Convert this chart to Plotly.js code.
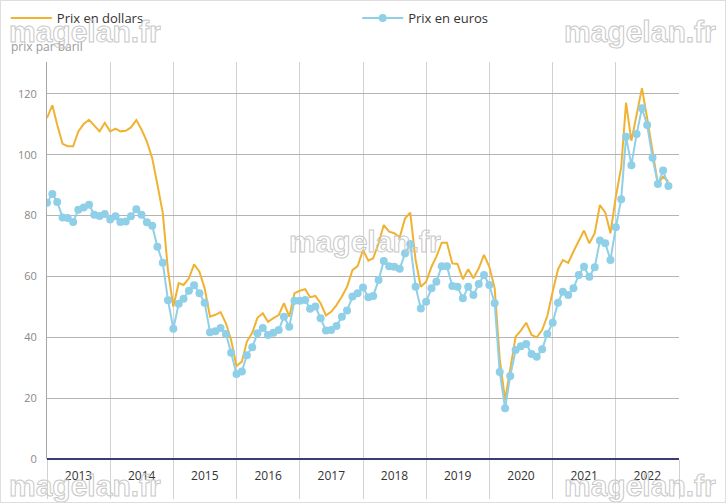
<!DOCTYPE html>
<html>
<head>
<meta charset="utf-8">
<script src="https://cdn.plot.ly/plotly-3.0.1.min.js"></script>
<style>
html,body{margin:0;padding:0;background:#fff;}
#wrap{position:relative;width:726px;height:503px;}
#chart{width:726px;height:503px;}
#frame{position:absolute;left:0;top:0;width:726px;height:503px;box-sizing:border-box;border:1px solid #dedede;pointer-events:none;}
</style>
</head>
<body>
<div id="wrap"><div id="chart"></div><div id="frame"></div></div>
<script>
// Monthly series, January 2013 to November 2022
const startYear = 2013;
const yearLabels = ['2013','2014','2015','2016','2017','2018','2019','2020','2021','2022'];
const seriesNames = ['Prix en dollars', 'Prix en euros'];
const yAxisLabel = 'prix par baril';
const watermark = 'magelan.fr';

const dollars = [
  112.1, 116.3, 109.9, 103.6, 102.8, 102.8, 107.7, 110.1, 111.5, 109.7, 107.7, 110.5,
  107.7, 108.6, 107.7, 107.9, 109.0, 111.4, 108.3, 104.4, 98.9, 90.2, 80.9, 62.0,
  50.1, 57.8, 57.2, 59.4, 64.0, 61.6, 56.1, 46.8, 47.4, 48.3, 44.6, 39.1,
  30.6, 32.0, 38.6, 41.5, 46.4, 47.9, 45.1, 46.3, 47.3, 51.2, 46.8, 54.5,
  55.3, 55.8, 53.2, 53.6, 51.2, 47.2, 48.4, 50.6, 53.4, 56.6, 62.1, 63.4,
  68.7, 65.2, 66.0, 70.9, 76.9, 74.7, 74.2, 72.9, 79.1, 81.0, 65.4, 56.6,
  58.3, 63.2, 66.5, 71.1, 71.1, 64.3, 64.1, 59.1, 62.4, 59.4, 62.7, 67.1,
  63.2, 56.1, 33.0, 19.4, 30.3, 40.2, 42.2, 44.8, 40.8, 40.0, 42.4, 47.0,
  55.0, 62.4, 65.4, 64.5, 68.2, 72.0, 75.1, 70.9, 74.2, 83.5, 81.0, 74.2,
  86.2, 95.9, 117.1, 104.6, 113.1, 121.9, 112.0, 101.0, 90.4, 92.8, 91.2
];

const euros = [
  84.2, 87.1, 84.5, 79.4, 79.2, 77.9, 81.9, 82.7, 83.6, 80.3, 79.9, 80.5,
  78.7, 79.8, 77.9, 78.1, 79.8, 82.1, 80.3, 77.8, 76.7, 69.8, 64.5, 52.2,
  42.8, 51.0, 52.7, 55.3, 57.1, 54.5, 51.4, 41.7, 42.0, 43.1, 41.1, 34.9,
  27.9, 28.8, 34.1, 36.7, 41.3, 43.1, 40.8, 41.5, 42.4, 46.8, 43.5, 52.0,
  52.0, 52.3, 49.4, 50.1, 46.3, 42.2, 42.4, 43.7, 46.8, 48.8, 53.4, 54.5,
  56.4, 53.2, 53.6, 58.8, 65.1, 63.4, 63.2, 62.5, 67.6, 70.7, 56.6, 49.5,
  51.7, 56.1, 58.3, 63.4, 63.4, 56.9, 56.6, 52.8, 56.6, 53.9, 57.5, 60.5,
  57.2, 51.2, 28.6, 16.7, 27.3, 35.8, 37.1, 37.8, 34.5, 33.6, 36.1, 41.1,
  44.8, 51.4, 55.0, 53.9, 56.1, 60.5, 63.2, 59.9, 63.0, 71.8, 70.9, 65.4,
  76.2, 85.4, 105.9, 96.6, 106.8, 115.3, 109.8, 99.0, 90.4, 94.8, 89.7
];

const dates = dollars.map((_, i) => {
  const y = startYear + Math.floor(i / 12);
  const m = (i % 12) + 1;
  return y + '-' + String(m).padStart(2, '0') + '-01';
});
const yearStarts = yearLabels.map(y => y + '-01-01').concat([(startYear + yearLabels.length) + '-01-01']);
const yearMids = yearLabels.map(y => y + '-07-02');

const traces = [
  {
    x: dates, y: dollars, name: seriesNames[0], type: 'scatter', mode: 'lines',
    line: {color: '#f0b232', width: 2}, legend: 'legend', hoverinfo: 'skip'
  },
  {
    x: dates, y: euros, name: seriesNames[1], type: 'scatter', mode: 'lines+markers',
    line: {color: '#8fd0e8', width: 2}, marker: {color: '#8fd0e8', size: 8},
    legend: 'legend2', hoverinfo: 'skip'
  }
];

const wmFont = {family: 'Liberation Sans, Arial, sans-serif', size: 30, color: '#ffffff', weight: 'bold'};
function wm(x, y) {
  return {text: watermark, x: x, y: y, xref: 'paper', yref: 'paper', showarrow: false,
          xanchor: 'center', yanchor: 'middle', font: wmFont};
}

const yRange = [0, 130.5];
const layout = {
  width: 726, height: 503,
  margin: {l: 47, r: 47, t: 62, b: 44, pad: 0},
  paper_bgcolor: '#ffffff', plot_bgcolor: '#ffffff',
  font: {family: 'Open Sans, sans-serif', color: '#333'},
  showlegend: true,
  legend: {orientation: 'h', x: 0.008, y: 0.994, xref: 'container', yref: 'container',
           xanchor: 'left', yanchor: 'top', font: {size: 13, color: '#333'}, itemwidth: 41,
           bgcolor: 'rgba(0,0,0,0)'},
  legend2: {orientation: 'h', x: 0.492, y: 0.994, xref: 'container', yref: 'container',
           xanchor: 'left', yanchor: 'top', font: {size: 13, color: '#333'}, itemwidth: 41,
           bgcolor: 'rgba(0,0,0,0)'},
  xaxis: {
    type: 'date', range: ['2013-01-01', '2023-01-01'],
    tickmode: 'array', tickvals: yearMids, ticktext: yearLabels,
    showgrid: false, ticks: '', showline: false, zeroline: false,
    tickfont: {size: 12, color: '#333'}, ticklabelstandoff: 8,
    minor: {tickmode: 'array', tickvals: yearStarts, ticks: 'outside', ticklen: 39,
            tickcolor: '#d2d2d2', tickwidth: 1, showgrid: true, gridcolor: '#d2d2d2', gridwidth: 1},
    fixedrange: true
  },
  yaxis: {
    range: yRange, dtick: 20, tick0: 0,
    showgrid: true, gridcolor: '#b4b4b4', gridwidth: 1,
    zeroline: true, zerolinecolor: '#3a3d75', zerolinewidth: 2,
    showline: true, linecolor: '#a8a8a8', linewidth: 1,
    ticks: '', tickfont: {size: 11, color: '#888'}, ticklabelstandoff: 7, fixedrange: true
  },
  yaxis2: {
    overlaying: 'y', side: 'right', range: yRange, dtick: 20, tick0: 0,
    showgrid: false, zeroline: false,
    showline: true, linecolor: '#a8a8a8', linewidth: 1,
    ticks: '', tickfont: {size: 11, color: '#888'}, ticklabelstandoff: 5, fixedrange: true
  },
  annotations: [
    {text: yAxisLabel, x: -0.060, y: 1.038, xref: 'paper', yref: 'paper', showarrow: false,
     xanchor: 'left', yanchor: 'middle', font: {size: 12, color: '#999'}},
    wm(0.060, 1.078), wm(0.938, 1.078), wm(0.503, 0.549), wm(0.060, -0.068), wm(0.938, -0.068)
  ]
};

Plotly.newPlot('chart', traces, layout, {displayModeBar: false, staticPlot: true}).then(() => {
  document.querySelectorAll('.annotation-text').forEach(t => {
    if (t.textContent === watermark) {
      t.style.fill = 'none';
      t.style.stroke = '#c8c8c8';
      t.style.strokeWidth = '1px';
    }
  });
});
</script>
</body>
</html>
